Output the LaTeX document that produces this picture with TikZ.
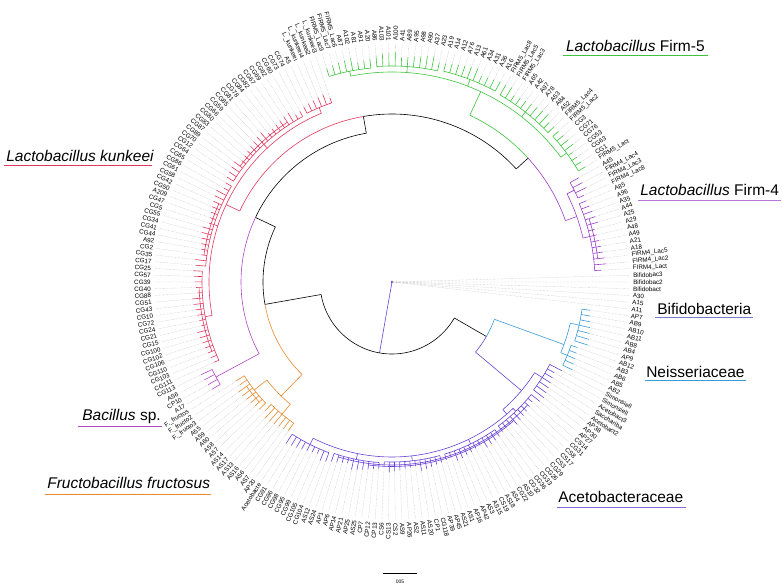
\documentclass[tikz,border=0pt]{standalone}
\usepackage{fontspec}
\setmainfont{Liberation Sans}
\usetikzlibrary{positioning}
\definecolor{FirmFive}{HTML}{3CC43C}
\definecolor{FirmFour}{HTML}{9A3CC8}
\definecolor{Kunk}{HTML}{E2385E}
\definecolor{Bacil}{HTML}{B046C6}
\definecolor{Fructo}{HTML}{E8892E}
\definecolor{Aceto}{HTML}{6842D6}
\definecolor{Neiss}{HTML}{3A9AD8}
\definecolor{Bifido}{HTML}{7A7ACC}

% angle of leaf k (222 leaves round the circle)
\newcommand\leafang[1]{-6.5+#1*1.6216}
\newcommand\radl[4]{\draw[#1] (#2:#3) -- (#2:#4);}
\newcommand\arcr[4]{\draw[#1] (#2:#4) arc[start angle=#2, end angle=#3, radius=#4];}
\newcommand\tips[5]{%
  \foreach \k in {#2,...,#3}{%
    \pgfmathsetmacro\ka{\leafang{\k}}%
    \pgfmathsetmacro\kr{#5+mod(\k*37,13)*0.5}%
    \draw[#1] (\ka:#4) -- (\ka:\kr);
    \draw[leader] (\ka:\kr) -- (\ka:238);
  }}
\newcommand\grp[6]{%
  \pgfmathsetmacro\gpa{\leafang{#2}}%
  \pgfmathsetmacro\gpb{\leafang{#3}}%
  \pgfmathsetmacro\gpm{(\gpa+\gpb)/2}%
  \draw[#1] (\gpm:#4) -- (\gpm:#5);
  \draw[#1] (\gpa:#5) arc[start angle=\gpa, end angle=\gpb, radius=#5];
  \tips{#1}{#2}{#3}{#5}{#6}}

\begin{document}
\begin{tikzpicture}[x=1pt, y=1pt, line width=0.6pt,
  leaf/.style={font=\fontsize{6.3}{7}\selectfont, inner sep=0pt},
  leader/.style={gray!55, line width=0.3pt, dash pattern=on 0.6pt off 0.8pt},
  clade/.style={font=\fontsize{15.5}{18}\selectfont, inner sep=0pt, anchor=base west},
  uline/.style={line width=1pt}]
\useasboundingbox (-392,-306) rectangle (390,282);

% root and backbone
\node[circle, fill=Aceto, inner sep=0.9pt] (root) at (0,0) {};
\draw[Aceto] (root.center) -- (-100:72);
\arcr{black}{190}{330}{72}

% left half
\radl{black}{190}{72}{129}
\arcr{black}{190}{154.7}{129}
\arcr{Fructo}{190}{225.8}{129}
\radl{Fructo}{225.8}{129}{159}
\arcr{Fructo}{\leafang{138.5}}{\leafang{146}}{159}
\grp{Fructo}{135}{142}{159}{175}{183}
\grp{Fructo}{143}{149}{159}{172}{181}
\arcr{Fructo}{\leafang{137}}{\leafang{141}}{179}

\radl{black}{154.7}{129}{151}
\arcr{black}{154.7}{99.8}{151}
\arcr{Bacil}{154.7}{208.4}{151}
\grp{Bacil}{131}{134}{151}{200}{207}

\radl{black}{99.8}{151}{168}
\arcr{Kunk}{99.8}{155}{168}
\arcr{black}{99.8}{42.3}{168}
\radl{Kunk}{155}{168}{183}
\arcr{Kunk}{\leafang{73.5}}{\leafang{121.5}}{183}
\grp{Kunk}{71}{76}{183}{189}{194}
\grp{Kunk}{77}{95}{183}{188}{193}
\grp{Kunk}{96}{112}{183}{187}{192}
\grp{Kunk}{113}{130}{183}{190}{195}
\arcr{Kunk}{\leafang{80}}{\leafang{92}}{191}
\arcr{Kunk}{\leafang{100}}{\leafang{110}}{190}
\arcr{Kunk}{\leafang{116}}{\leafang{128}}{193}

\radl{black}{42.3}{168}{184}
\arcr{FirmFive}{42.3}{65}{184}
\arcr{FirmFour}{42.3}{19.5}{184}
\radl{FirmFive}{65}{184}{210}
\arcr{FirmFive}{\leafang{26.5}}{\leafang{66.5}}{210}
\grp{FirmFive}{23}{30}{210}{217}{222}
\grp{FirmFive}{31}{41}{210}{216}{223}
\grp{FirmFive}{42}{51}{210}{217}{224}
\grp{FirmFive}{52}{62}{210}{216}{224}
\grp{FirmFive}{63}{70}{210}{215}{222}

\radl{FirmFour}{19.5}{184}{196}
\arcr{FirmFour}{\leafang{12}}{\leafang{20.5}}{196}
\grp{FirmFour}{6}{18}{196}{203}{209}
\grp{FirmFour}{19}{22}{196}{204}{210}
\arcr{FirmFour}{\leafang{8}}{\leafang{15}}{207}

% right half
\radl{black}{330}{72}{109}
\arcr{Neiss}{330}{340}{109}
\arcr{Aceto}{330}{320}{109}
\radl{Neiss}{340}{109}{183}
\arcr{Neiss}{\leafang{212}}{\leafang{218}}{183}
\grp{Neiss}{210}{214}{183}{190}{196}
\grp{Neiss}{215}{221}{183}{192}{200}

\radl{Aceto}{320}{109}{169}
\arcr{Aceto}{311}{\leafang{206}}{169}
\grp{Aceto}{203}{209}{169}{178}{186}
\radl{Aceto}{311}{169}{175}
\arcr{Aceto}{\leafang{154}}{\leafang{197.5}}{175}
\grp{Aceto}{150}{158}{175}{182}{187}
\grp{Aceto}{159}{168}{175}{181}{186}
\grp{Aceto}{169}{180}{175}{180}{185}
\grp{Aceto}{181}{192}{175}{180}{185}
\grp{Aceto}{193}{202}{175}{179}{184}
\arcr{Aceto}{\leafang{160}}{\leafang{200}}{183}
\arcr{Aceto}{\leafang{166}}{\leafang{196}}{184.5}

% Bifidobacteria straight from the root
\foreach \k in {0,...,5}{\draw[leader] (root.center) -- (\leafang{\k}:238);}

% leaf labels
\foreach \nm [count=\k from 0] in {A11, A15, A30, Bifidobact, Bifidobac2, Bifidobac3,
  FIRM4\_Lact, FIRM4\_Lac2, FIRM4\_Lac5, A18, A21, A49, A48, A29, A25, A44, A35, A96, A85,
  FIRM4\_Lac8, FIRM4\_Lac3, FIRM4\_Lac4, A45,
  FIRM5\_Lact, CG1, CG63, CG53, CG76, CG71, CG3, FIRM5\_Lac2, FIRM5\_Lac4, A52, A84, A53,
  A78, A97, A42, A65, FIRM5\_Lac3, FIRM5\_Lac5, FIRM5\_Lac8, A16, A36, A31, A34, A61, A13,
  A76, A12, A14, A19, A23, A37, A90, A98, A95, A89, A41, A100, A101, A103, A86, A20, A91,
  A81, A102, A87, FIRM5\_Lac6, FIRM5\_Lac7, FIRM5\_Lac9,
  L.\_kunkeei3, L.\_kunkeei2, L.\_kunkeei4, L.\_kunkeei, A5, CG74, CG73, CG60, CG62, CG69,
  CG67, CG82, CG84, CG78, CG81, CG85, CG59, CG66, CG80, CG83, CG87, CG89, CG70,
  CG12, CG64, CG65, CG86, CG61, CG58, CG42, CG50, A209, CG47, CG5, CG55, CG34, CG41, CG44,
  A92, CG2, CG35, CG17, CG25, CG57, CG39, CG40, CG88, CG51, CG43, CG10, CG72, CG24, CG21,
  CG15, CG100, CG102, CG106, CG110, CG103, CG111,
  CG113, AS6, CP10, A17,
  F.\_fructos, F.\_fructo2, F.\_fructo3, A55, A59, A60, A58, A57, AS14, AS17, AS13, AS16,
  A56, AS7, AP20,
  Acetobacte, CG91, CG96, CG98, CG95, CG99, CG105, CG104, AS12, AS24, AP1, AP6, AP14, AP21,
  AP25, AS25, CP7, CP12, CP13, CS6, CS13, CS2, AS9, AP26, AS2, AS11, AS20, CP1, CG118, AP39,
  AP45, AS21, AS1, AP16, AP42, AS3, AS15, CS19, AS18, AS4, CG22, AS10, CG32, CG36, CG33,
  CG26, CG29, CS3, CS17, CS8, CG31, CS14, AP27, AP30, AP38, Acetobact2, Sacchariba,
  Acetobact3, Simonsiell, Simonsiell,
  AB2, AB5, AB6, AB3, AB12, AP9, AB4, AB8, AB11, AB10, AB9, AP7}{
  \pgfmathsetmacro\ka{\leafang{\k}}
  \pgfmathtruncatemacro\lft{(\ka>90)&&(\ka<270)}
  \ifnum\lft=1
    \node[leaf, anchor=east, rotate=\ka-180] (l\k) at (\ka:241) {\nm};
  \else
    \node[leaf, anchor=west, rotate=\ka] (l\k) at (\ka:241) {\nm};
  \fi
}

% clade labels
\node[clade] (firmfive) at (173.7,230) {\textit{Lactobacillus} Firm-5};
\node[clade] (firmfour) at (248,86) {\textit{Lactobacillus} Firm-4};
\node[clade] (kunkeei) at (-386,120) {\textit{Lactobacillus kunkeei}};
\node[clade] (bifido) at (265,-32.5) {Bifidobacteria};
\node[clade] (neiss) at (254,-96) {Neisseriaceae};
\node[clade] (aceto) at (166,-221) {Acetobacteraceae};
\node[clade] (bacil) at (-310,-139) {\textit{Bacillus} sp.};
\node[clade] (fructo) at (-345,-207) {\textit{Fructobacillus fructosus}};
\draw[uline, FirmFive] ([shift={(-3,-4)}]firmfive.base west) -- ([shift={(3,-4)}]firmfive.base east);
\draw[uline, FirmFour!70] ([shift={(-2,-4.5)}]firmfour.base west) -- ([shift={(2,-4.5)}]firmfour.base east);
\draw[uline, Kunk] ([shift={(-2,-4)}]kunkeei.base west) -- ([shift={(-2,-4)}]kunkeei.base east);
\draw[uline, Bifido] ([shift={(-2,-3.5)}]bifido.base west) -- ([shift={(1,-3.5)}]bifido.base east);
\draw[uline, Neiss] ([shift={(-1,-3)}]neiss.base west) -- ([shift={(1,-3)}]neiss.base east);
\draw[uline, Aceto!80] ([shift={(-1,-5)}]aceto.base west) -- ([shift={(2,-5)}]aceto.base east);
\draw[uline, Bacil] ([shift={(-4,-6)}]bacil.base west) -- ([shift={(1,-6)}]bacil.base east);
\draw[uline, Fructo] ([shift={(-2,-6)}]fructo.base west) -- ([shift={(1,-6)}]fructo.base east);

% scale bar
\coordinate (sbl) at (-8.7,-291.3);
\coordinate (sbr) at (24.7,-291.3);
\draw[line width=0.5pt] (sbl) -- (sbr);
\node[font=\fontsize{5}{6}\selectfont, inner sep=0pt] (sbt) at (8,-300) {005};
\end{tikzpicture}
\end{document}
